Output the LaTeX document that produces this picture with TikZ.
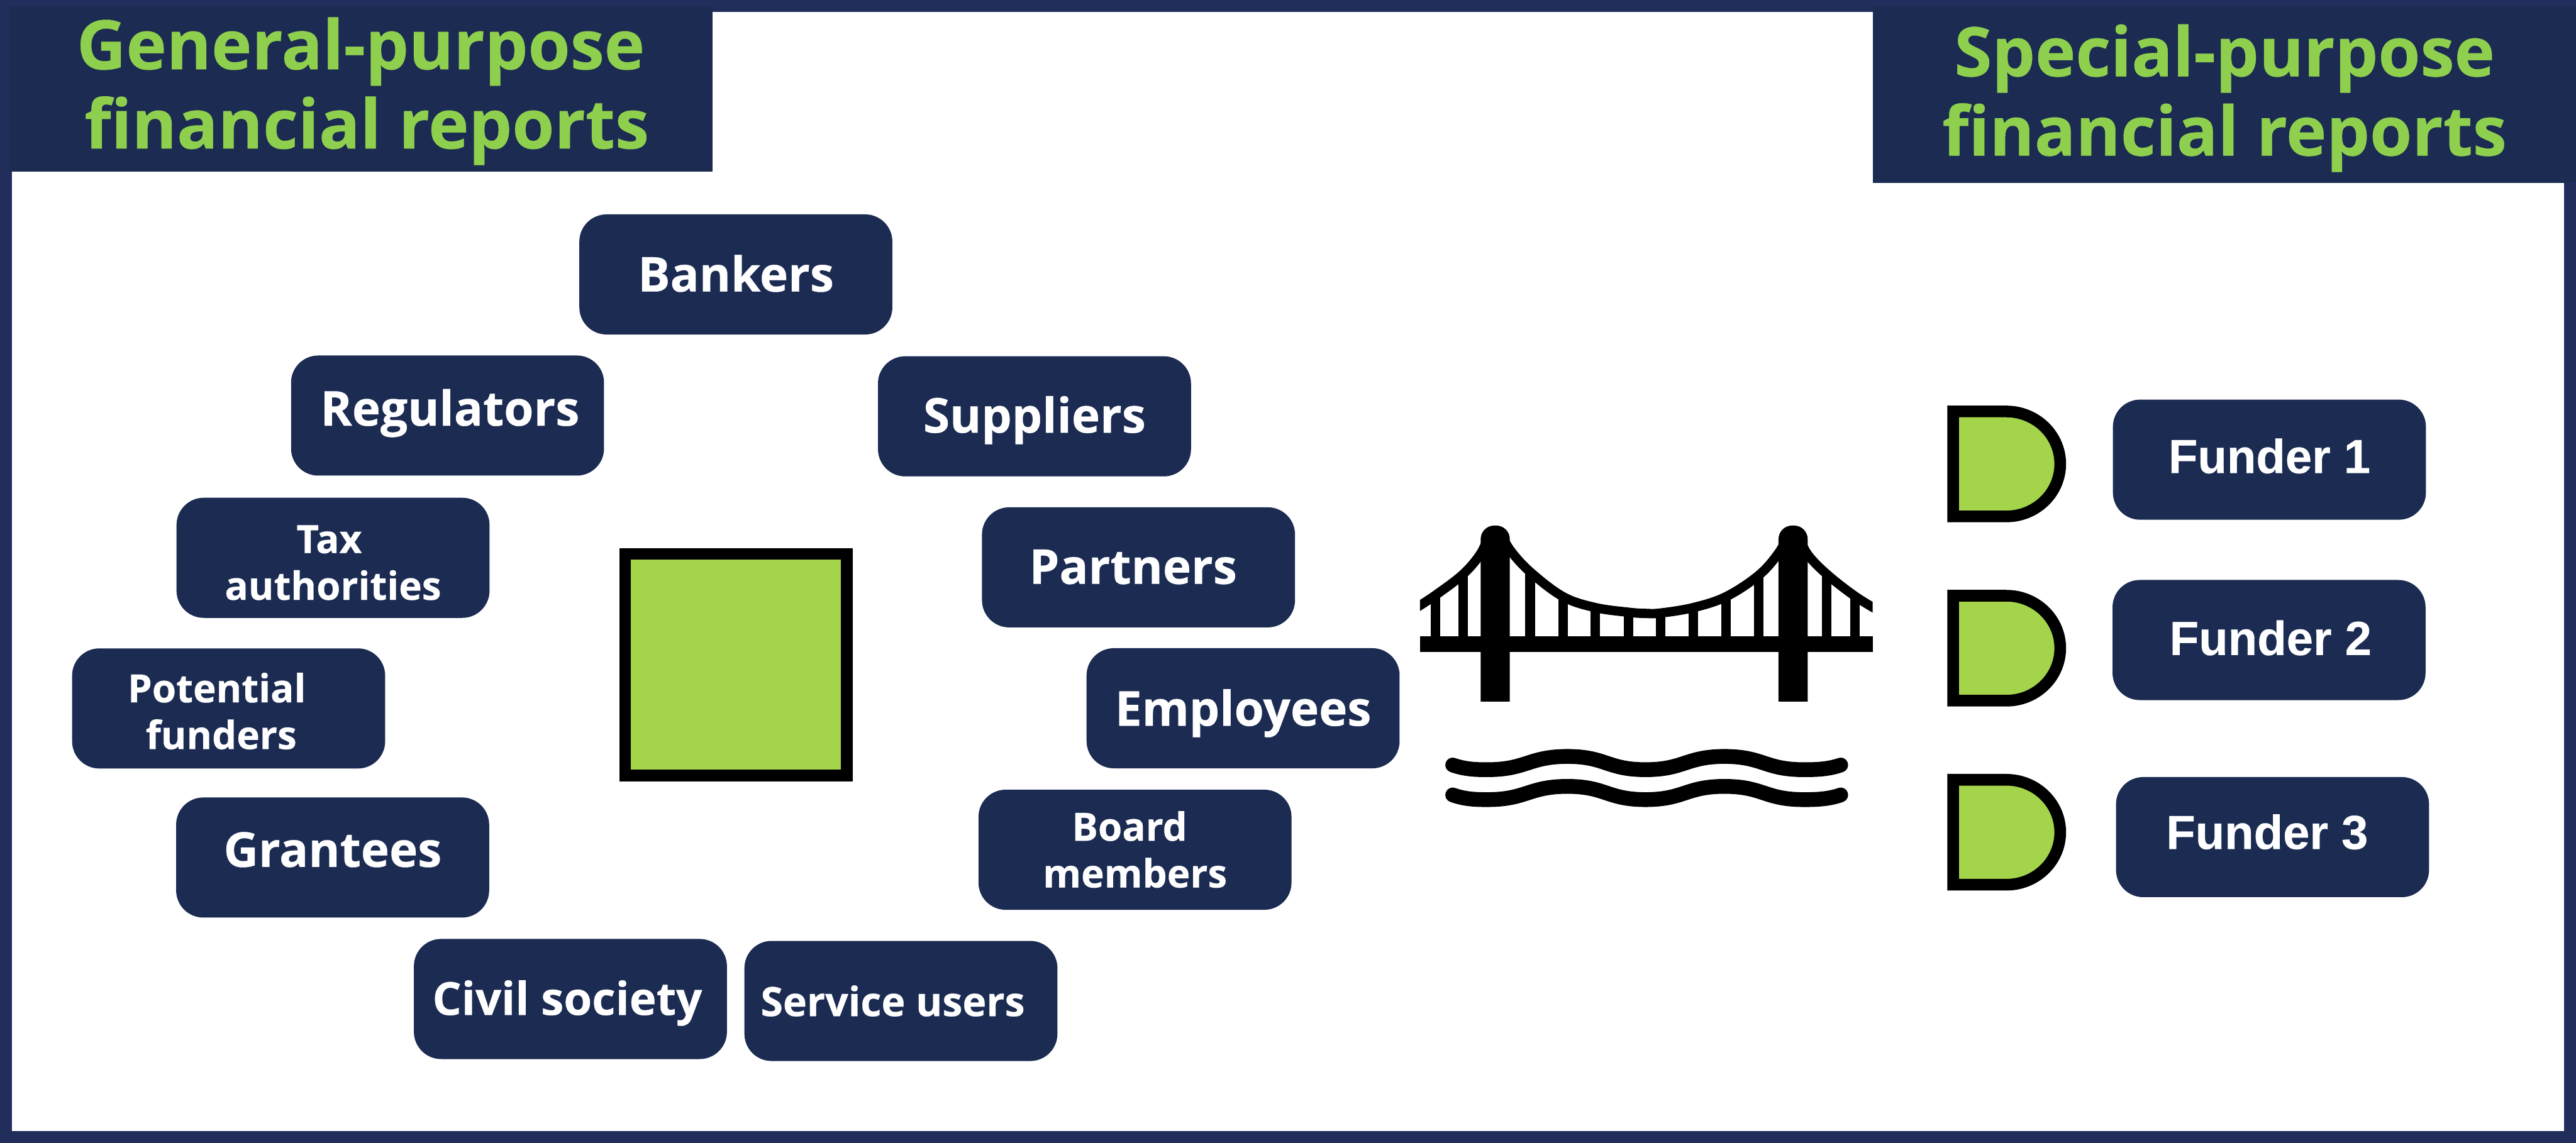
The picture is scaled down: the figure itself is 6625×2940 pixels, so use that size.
\documentclass[tikz,border=0pt]{standalone}
\usepackage{fontspec}
\setmainfont{Open Sans}[Ligatures=NoCommon, BoldFeatures={FakeBold=0.4}]
\newfontfamily\funderfont{Liberation Sans}[BoldFeatures={FakeBold=0.4}]
\definecolor{framenavy}{HTML}{212E5C}
\definecolor{boxnavy}{HTML}{1B2B52}
\definecolor{titlegreen}{HTML}{8FCF4E}
\definecolor{lime}{HTML}{A3D44A}
\tikzset{
  baseat/.style={text height=#1, text depth=0pt},
  titlebox/.style={fill=boxnavy, inner sep=0pt, align=center, text=titlegreen,
                   font=\fontsize{25}{29}\selectfont\bfseries},
  partybox/.style={fill=boxnavy, rounded corners=3.5mm, inner sep=0pt, align=center,
                   minimum width=40.25mm, minimum height=15.45mm, text=white,
                   font=\fontsize{17.6}{21}\selectfont\bfseries},
  twoline/.style={font=\fontsize{14.25}{17.1}\selectfont\bfseries},
  funderbox/.style={partybox, font=\fontsize{17.5}{21}\selectfont\bfseries\funderfont},
  limeshape/.style={draw=black, line width=1.5mm, fill=lime, miter limit=10},
  cable/.style={line width=1.2mm, color=black},
  hanger/.style={line width=1.25mm, color=black},
  wave/.style={line width=1.9mm, color=black, line cap=round}}
\begin{document}
\begin{tikzpicture}[x=0.05mm, y=-0.05mm]
    \useasboundingbox (0,0) rectangle (6625,2940);
    \fill[framenavy] (0,0) rectangle (6625,2940);
    \fill[white] (30,30) rectangle (6595,2910);
    % the two headings
    \node[titlebox, baseat=15.3mm, minimum width=90.45mm, minimum height=21.3mm] (general) at (927.5,229)
      {General-purpose\\\hspace*{1.6mm}financial reports};
    \node[titlebox, baseat=15.65mm, minimum width=90.4mm, minimum height=22.75mm] (special) at (5721,243.5)
      {Special-purpose\\financial reports};
    % the users round the square
    \node[draw=black, line width=1.5mm, fill=lime, minimum size=28.5mm] (org) at (1893,1710) {};
    \node[partybox, baseat=4.4mm] (bankers) at (1892.5,706) {Bankers};
    \node[partybox, baseat=2.6mm] (regulators) at (1151,1069) {\hspace*{.6mm}Regulators};
    \node[partybox, baseat=4.2mm] (suppliers) at (2660.5,1071) {Suppliers};
    \node[partybox, twoline, baseat=10.8mm] (tax) at (856.5,1435) {Tax\hspace*{1mm}\\authorities};
    \node[partybox, baseat=4.25mm] (partners) at (2928,1459.5) {Partners\hspace*{1.4mm}};
    \node[partybox, twoline, baseat=10.45mm] (potential) at (588,1822.5) {Potential\hspace*{3.05mm}\\funders\hspace*{1.9mm}};
    \node[partybox, baseat=4.5mm] (employees) at (3197,1822) {Employees};
    \node[partybox, baseat=2.4mm] (grantees) at (855.5,2206) {Grantees};
    \node[partybox, twoline, baseat=9.7mm] (board) at (2919,2186) {Board\hspace*{1.4mm}\\members};
    \node[partybox, baseat=4.1mm, font=\fontsize{16.7}{20}\selectfont\bfseries] (civil) at (1467,2570) {Civil society\hspace*{.8mm}};
    \node[partybox, baseat=3.9mm, font=\fontsize{14.8}{18}\selectfont\bfseries] (service) at (2317,2575) {Service users\hspace*{2.1mm}};
    % the bridge
    \begin{scope}
      \clip (3652,1300) rectangle (4816,1700);
      \foreach \hx/\hy in {3692/1531,3763/1477,3935/1471,4020/1535,4103/1563,4188/1575,
                           4271/1577,4355/1563,4439/1535,4523/1480,4698/1477,4771/1534}
        \draw[hanger] (\hx,1650) -- (\hx,\hy);
      \draw[cable] plot[smooth, tension=.6] coordinates {(3860,1370) (3883,1414) (3935,1471)
        (4020,1535) (4103,1563) (4188,1575) (4232,1578) (4271,1577) (4355,1563) (4439,1535)
        (4523,1480) (4574,1423) (4600,1375)};
      \draw[cable] plot[smooth, tension=.6] coordinates {(3830,1375) (3808,1424) (3763,1477)
        (3692,1531) (3640,1565)};
      \draw[cable] plot[smooth, tension=.6] coordinates {(4625,1375) (4648,1425) (4698,1477)
        (4771,1534) (4830,1570)};
    \end{scope}
    \fill[black] (3652,1636) rectangle (4816,1677);
    \foreach \tx in {3808,4574}
      \fill[black, rounded corners=1.75mm] (\tx,1900) -- (\tx,1352) -- (\tx+75,1352) -- (\tx+75,1900)
        [sharp corners] -- cycle;
    \fill[white] (3800,1805) rectangle (4660,1910);
    % the water
    \foreach \wy in {0,77}
      \draw[wave, shift={(0,\wy)}] (3736,1968) .. controls (3770,1980) and (3800,1980) .. (3826,1980)
        .. controls (3925,1980) and (3932,1946) .. (4031,1946)
        .. controls (4130,1946) and (4133,1980) .. (4232,1980)
        .. controls (4331,1980) and (4336,1946) .. (4435,1946)
        .. controls (4534,1946) and (4539,1980) .. (4638,1980)
        .. controls (4665,1980) and (4700,1980) .. (4734,1968);
    % the funders
    \foreach \dy in {1193.5,1667.5,2141}
      \draw[limeshape, shift={(0,\dy)}] (5023,-135) -- (5160,-135)
        .. controls (5236,-135) and (5298.5,-75) .. (5298.5,0)
        .. controls (5298.5,75) and (5236,135) .. (5160,135) -- (5023,135) -- cycle;
    \node[funderbox, baseat=3.45mm] (funderone) at (5836.5,1182.5) {Funder 1};
    \node[funderbox, baseat=3.85mm] (fundertwo) at (5835.5,1646.5) {\hspace*{.4mm}Funder 2};
    \node[funderbox, baseat=3.05mm] (funderthree) at (5844.5,2153.5) {Funder 3\hspace*{1.4mm}};
  \end{tikzpicture}
\end{document}
